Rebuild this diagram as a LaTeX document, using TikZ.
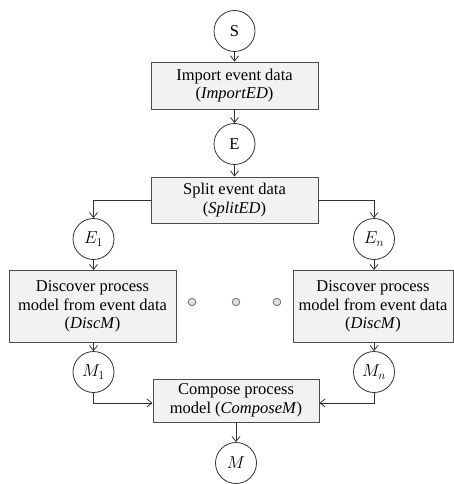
\documentclass[tikz,border=0pt]{standalone}
\usepackage{fontspec}
\setmainfont{Liberation Serif}
\usetikzlibrary{arrows.meta}
\begin{document}
\begin{tikzpicture}[x=1pt,y=-1pt,
  box/.style={draw=black!70, fill=black!5, line width=0.9pt, align=center, inner sep=0pt, font=\fontsize{16.5}{18.5}\selectfont},
  st/.style={draw=black!80, fill=white, circle, line width=0.8pt, minimum size=41pt, inner sep=0pt, font=\fontsize{16.5}{18.5}\selectfont},
  dot/.style={circle, draw=black!55, fill=black!12, minimum size=7.5pt, inner sep=0pt, line width=0.8pt},
  arr/.style={draw=black!80, line width=0.8pt, -{Straight Barb[length=5pt,width=8pt]}}]
\useasboundingbox (0,0) rectangle (454,484);
\node[st] (S) at (234.5,31) {S};
\node[box, minimum width=167pt, minimum height=47pt] (imp) at (234.5,85.5) {Import event data\\(\textit{ImportED})};
\node[st] (E) at (234.5,144) {E};
\node[box, minimum width=167pt, minimum height=46pt] (split) at (234.5,200) {Split event data\\(\textit{SplitED})};
\node[st] (E1) at (93.5,239) {$E_1$};
\node[st] (En) at (374,239) {$E_n$};
\node[box, minimum width=167pt, minimum height=72pt] (dl) at (92.5,306.5) {Discover process\\model from event data\\(\textit{DiscM})};
\node[box, minimum width=160pt, minimum height=72pt] (dr) at (373,306.5) {Discover process\\model from event data\\(\textit{DiscM})};
\node[dot] (d1) at (192,302) {};
\node[dot] (d2) at (236,302) {};
\node[dot] (d3) at (277,302) {};
\node[st] (M1) at (93.5,372) {$M_1$};
\node[st] (Mn) at (374,372) {$M_n$};
\node[box, minimum width=166pt, minimum height=43pt] (comp) at (236,400.5) {Compose process\\model (\textit{ComposeM})};
\node[st] (M) at (236,463) {$M$};
\draw[arr] (S) -- (imp);
\draw[arr] (imp) -- (E);
\draw[arr] (E) -- (split);
\draw[arr] (split.west) -| (E1);
\draw[arr] (split.east) -| (En);
\draw[arr] (E1) -- (E1 |- dl.north);
\draw[arr] (En) -- (En |- dr.north);
\draw[arr] (M1 |- dl.south) -- (M1);
\draw[arr] (Mn |- dr.south) -- (Mn);
\draw[arr] (M1) |- ([yshift=-2.5pt]comp.west);
\draw[arr] (Mn) |- ([yshift=-2.5pt]comp.east);
\draw[arr] (comp) -- (M);
\end{tikzpicture}
\end{document}
